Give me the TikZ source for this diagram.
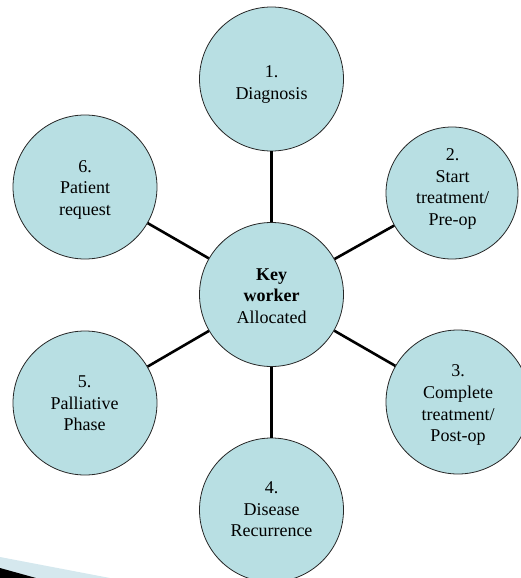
\documentclass[tikz,border=0pt]{standalone}
\usepackage{fontspec}
\setmainfont{Liberation Serif}
\definecolor{circfill}{HTML}{B8DFE3}
\definecolor{swooshblue}{HTML}{D5E8EE}
\begin{document}
\begin{tikzpicture}[x=1pt,y=-1pt,
  stage/.style={circle,draw=black!85,line width=0.8pt,fill=circfill,minimum size=144pt,inner sep=0pt},
  label/.style={anchor=base,inner sep=0pt,font=\fontsize{18}{21.7}\selectfont},
  link/.style={line width=2.6pt,black}]
\useasboundingbox (0,0) rectangle (521,578);
% decorative swoosh
\fill[swooshblue] (0,557) -- (110,578) -- (0,578) -- cycle;
\fill[black] (0,568) -- (36,578) -- (0,578) -- cycle;
% circles
\node[stage] (c) at (271.5,294.5) {};
\node[stage] (n1) at (271.5,79) {};
\node[stage,minimum size=132pt] (n2) at (452,193) {};
\node[stage] (n3) at (458,402) {};
\node[stage] (n4) at (271.5,510) {};
\node[stage] (n5) at (85,403) {};
\node[stage] (n6) at (85,187) {};
% connectors
\foreach \n in {n1,n2,n3,n4,n5,n6} \draw[link] (c) -- (\n);
% texts
\node[label] (tc) at (271.5,280) {\begin{tabular}[t]{@{}c@{}}\textbf{Key}\\\textbf{worker}\\Allocated\end{tabular}};
\node[label] (t1) at (271.5,77.7) {\begin{tabular}[t]{@{}c@{}}1.\\Diagnosis\end{tabular}};
\node[label] (t2) at (452.5,160.5) {\begin{tabular}[t]{@{}c@{}}2.\\Start\\treatment/\\Pre-op\end{tabular}};
\node[label] (t3) at (458,376.7) {\begin{tabular}[t]{@{}c@{}}3.\\Complete\\treatment/\\Post-op\end{tabular}};
\node[label] (t4) at (271.5,493.5) {\begin{tabular}[t]{@{}c@{}}4.\\Disease\\Recurrence\end{tabular}};
\node[label] (t5) at (84.5,387.5) {\begin{tabular}[t]{@{}c@{}}5.\\Palliative\\Phase\end{tabular}};
\node[label] (t6) at (85,172) {\begin{tabular}[t]{@{}c@{}}6.\\Patient\\request\end{tabular}};
\end{tikzpicture}
\end{document}
